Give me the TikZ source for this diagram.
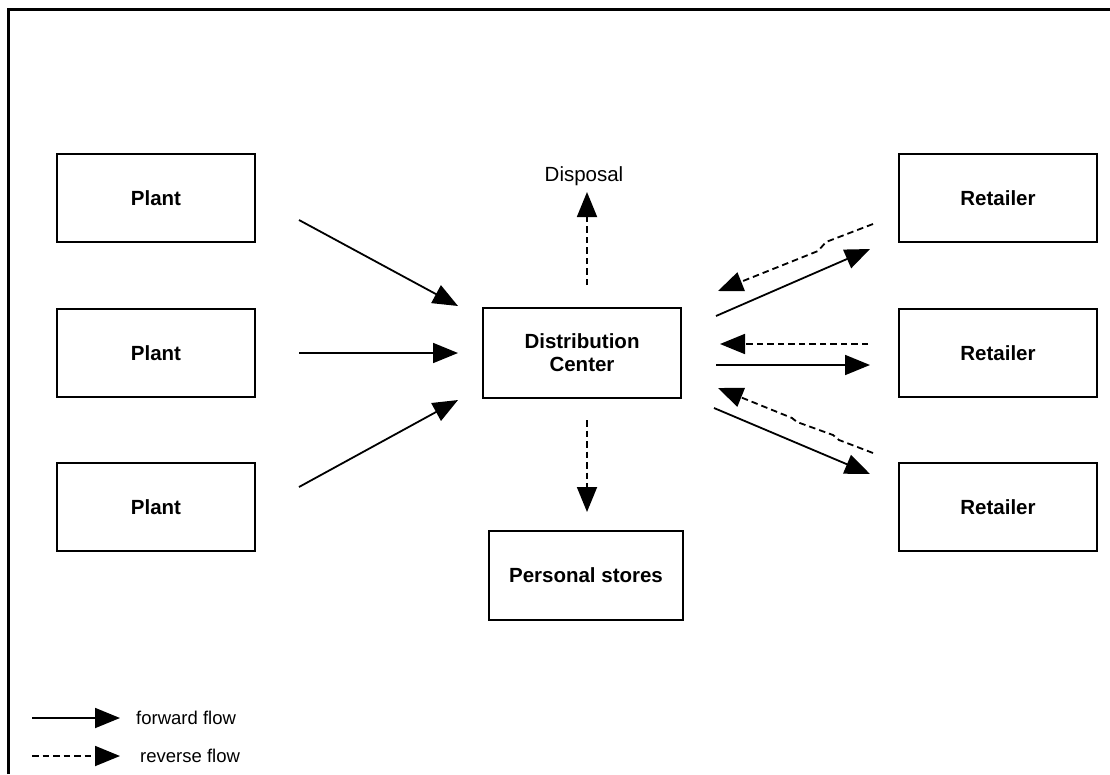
\documentclass[tikz,border=0pt]{standalone}
\usepackage{fontspec}
\setmainfont{Liberation Sans}
\usetikzlibrary{arrows.meta}
\begin{document}
\begin{tikzpicture}[x=1pt,y=-1pt,
  box/.style={draw,line width=2pt,minimum width=198pt,minimum height=88pt,
    inner sep=0pt,align=center,font=\fontsize{20.5}{23}\selectfont\bfseries},
  fwd/.style={line width=1.8pt,-{Triangle[length=25pt,width=20pt]}},
  rev/.style={line width=1.8pt,dash pattern=on 6.5pt off 4pt,
    -{Triangle[length=25pt,width=20pt]}},
  lbl/.style={font=\fontsize{18.5}{21}\selectfont,inner sep=0pt}]
\useasboundingbox (0,0) rectangle (1110,774);
% frame
\draw[line width=3pt] (8,774) -- (8,9) -- (1110,9);

% boxes
\node[box] (plant1) at (156,198) {Plant};
\node[box] (plant2) at (156,353) {Plant};
\node[box] (plant3) at (156,507) {Plant};
\node[box,minimum height=90pt] (dc) at (582,353) {Distribution\\Center};
\node[box,minimum width=194pt,minimum height=89pt] (ps) at (586,575) {Personal stores};
\node[box] (ret1) at (998,198) {Retailer};
\node[box] (ret2) at (998,353) {Retailer};
\node[box] (ret3) at (998,507) {Retailer};
\node[font=\fontsize{20.5}{24}\selectfont,inner sep=0pt] (disp) at (584,176) {Disposal};

% arrow end points
\coordinate (p1s) at (299,220); \coordinate (p1e) at (458,306);
\coordinate (p2s) at (299,353); \coordinate (p2e) at (458,353);
\coordinate (p3s) at (299,487); \coordinate (p3e) at (458,400);
\coordinate (dus) at (587,285); \coordinate (due) at (587,192);
\coordinate (dds) at (587,420); \coordinate (dde) at (587,512);
\coordinate (r1fs) at (716,316); \coordinate (r1fe) at (870,249);
\coordinate (r1rs) at (873,224); \coordinate (r1re) at (718,291);
\coordinate (r2rs) at (868,344); \coordinate (r2re) at (720,344);
\coordinate (r2fs) at (716,365); \coordinate (r2fe) at (870,365);
\coordinate (r3fs) at (714,408); \coordinate (r3fe) at (870,474);
\coordinate (r3rs) at (873,453); \coordinate (r3re) at (718,388);

% forward flow
\draw[fwd] (p1s) -- (p1e);
\draw[fwd] (p2s) -- (p2e);
\draw[fwd] (p3s) -- (p3e);
\draw[fwd] (r1fs) -- (r1fe);
\draw[fwd] (r2fs) -- (r2fe);
\draw[fwd] (r3fs) -- (r3fe);

% reverse flow
\draw[rev] (dus) -- (due);
\draw[rev] (dds) -- (dde);
\draw[rev] (r1rs) -- (826,242) -- (818,251) -- (r1re);
\draw[rev] (r2rs) -- (r2re);
\draw[rev] (r3rs) -- (839,440) -- (833,435) -- (797,422) -- (792,418) -- (r3re);

% legend
\coordinate (lf1) at (32,718); \coordinate (lf2) at (120,718);
\coordinate (lr1) at (32,756); \coordinate (lr2) at (120,756);
\draw[fwd] (lf1) -- (lf2);
\draw[rev] (lr1) -- (lr2);
\node[lbl,anchor=west] (lfwd) at (136,718) {forward flow};
\node[lbl,anchor=west] (lrev) at (140,756) {reverse flow};
\end{tikzpicture}
\end{document}
